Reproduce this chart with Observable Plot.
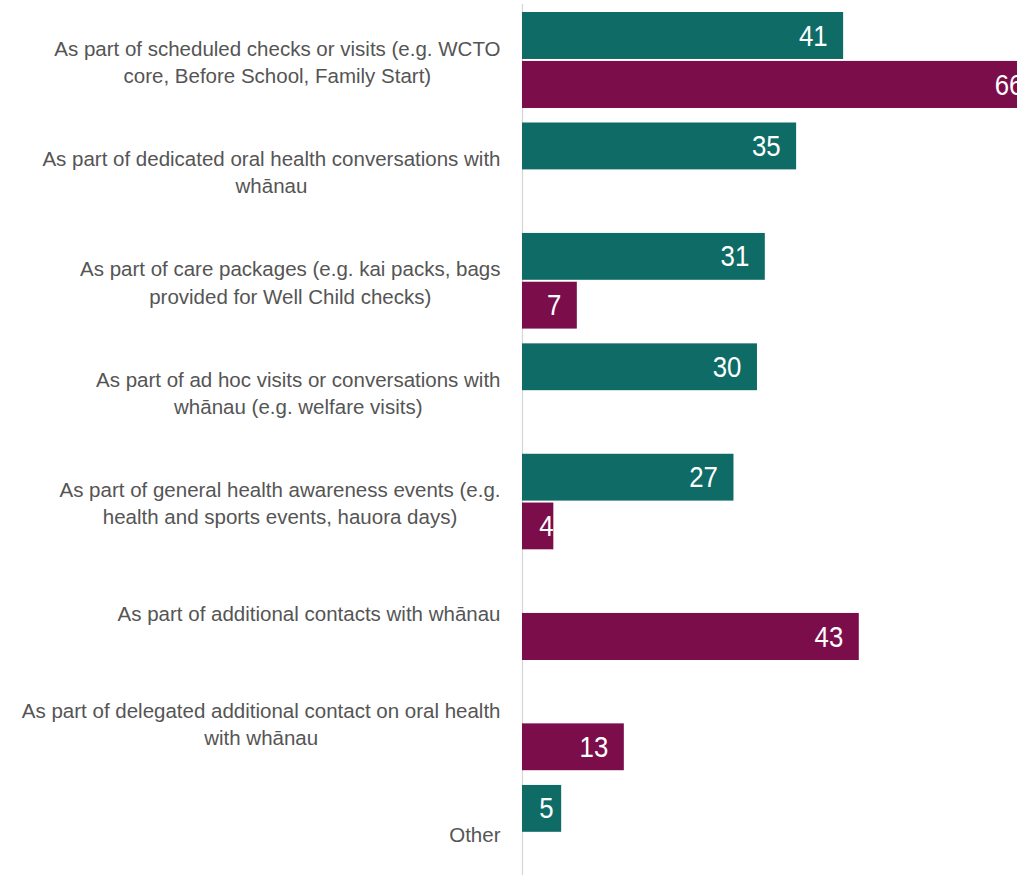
<!DOCTYPE html>
<html><head><meta charset="utf-8">
<script src="https://cdn.jsdelivr.net/npm/d3@7"></script>
<script src="https://cdn.jsdelivr.net/npm/@observablehq/plot@0.6"></script>
<style>
html,body{margin:0;padding:0;overflow:hidden;background:#fff;}
#chart svg{display:block;}
</style></head><body><div id="chart"></div>
<script>
const categories = [
  "As part of scheduled checks or visits (e.g. WCTO\ncore, Before School, Family Start)",
  "As part of dedicated oral health conversations with\nwhānau",
  "As part of care packages (e.g. kai packs, bags\nprovided for Well Child checks)",
  "As part of ad hoc visits or conversations with\nwhānau (e.g. welfare visits)",
  "As part of general health awareness events (e.g.\nhealth and sports events, hauora days)",
  "As part of additional contacts with whānau",
  "As part of delegated additional contact on oral health\nwith whānau",
  "Other"
];
const series = ["Series 1", "Series 2"];
const valuesSeries1 = [41, 35, 31, 30, 27, null, null, 5];
const valuesSeries2 = [66, null, 7, null, 4, 43, 13, null];
const colors = ["#0e6b66", "#7b0d4b"];

const rows = [];
categories.forEach((c, i) => {
  if (valuesSeries1[i] != null) rows.push({category: c, series: series[0], value: valuesSeries1[i]});
  if (valuesSeries2[i] != null) rows.push({category: c, series: series[1], value: valuesSeries2[i]});
});

const FONT = '"Liberation Sans", Arial, sans-serif';
const labelSize = 20.5;
const ctx = document.createElement("canvas").getContext("2d");
ctx.font = `${labelSize}px ${FONT}`;
const blockWidth = c => Math.max(...c.split("\n").map(l => ctx.measureText(l).width));

const labelMarks = categories.map(c => Plot.text([c], {
  fy: d => d, text: d => d, frameAnchor: "left", textAnchor: "middle",
  dx: -(22 + blockWidth(c) / 2), fill: "#555", fontSize: labelSize, lineHeight: 1.33
}));

const chart = Plot.plot({
  width: 1017,
  height: 885,
  marginLeft: 522,
  marginRight: 0,
  marginTop: 0,
  marginBottom: 0,
  style: {fontFamily: FONT, background: "#fff"},
  x: {domain: [0, 63.2], axis: null},
  y: {domain: series, paddingInner: 0.04, paddingOuter: 0, round: false, axis: null},
  fy: {domain: categories, paddingInner: 0.13, paddingOuter: 0.073, align: 0.74, round: false, axis: null},
  color: {domain: series, range: colors},
  marks: [
    Plot.ruleX([0], {stroke: "#d6d6d6", strokeWidth: 1.2, insetTop: -8, insetBottom: -8}),
    Plot.barX(rows, {fy: "category", y: "series", x: "value", fill: "series", clip: true}),
    Plot.text(rows, {
      fy: "category", y: "series", x: d => Math.max(d.value, 6), text: d => String(d.value),
      textAnchor: "end", dx: -16, fill: "white", fontSize: 30, clip: true
    }),
    ...labelMarks
  ]
});

// condense the value labels horizontally (narrow typeface look)
chart.querySelectorAll('g[fill="white"] text').forEach(t => {
  const tr = t.getAttribute("transform");
  if (tr) {
    t.setAttribute("transform", tr + " scale(0.86,1)");
  } else {
    const x = t.getAttribute("x") || 0, y = t.getAttribute("y") || 0;
    t.removeAttribute("x"); t.removeAttribute("y");
    t.setAttribute("transform", `translate(${x},${y}) scale(0.86,1)`);
  }
});
document.getElementById("chart").append(chart);
</script>
</body></html>
